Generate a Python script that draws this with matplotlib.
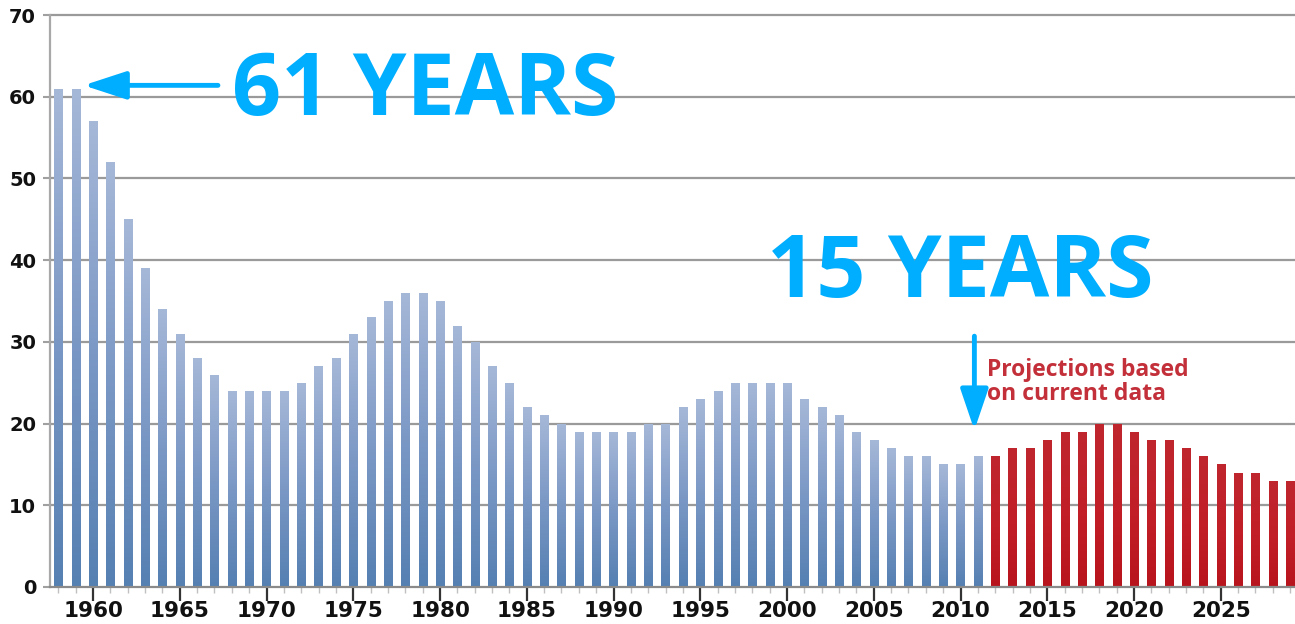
import numpy as np
import matplotlib
matplotlib.use("Agg")
import matplotlib.pyplot as plt
from matplotlib.ticker import MultipleLocator
from matplotlib.colors import LinearSegmentedColormap

# ---- data ----
hist_years = list(range(1958, 2012))
hist_values = [61, 61, 57, 52, 45, 39, 34, 31, 28, 26, 24, 24, 24, 24, 25, 27, 28,
               31, 33, 35, 36, 36, 35, 32, 30, 27, 25, 22, 21, 20, 19, 19, 19, 19,
               20, 20, 22, 23, 24, 25, 25, 25, 25, 23, 22, 21, 19, 18, 17, 16, 16,
               15, 15, 16]
proj_years = list(range(2012, 2030))
proj_values = [16, 17, 17, 18, 19, 19, 20, 20, 19, 18, 18, 17, 16, 15, 14, 14, 13, 13]
x_tick_years = [1960, 1965, 1970, 1975, 1980, 1985, 1990, 1995, 2000, 2005, 2010,
                2015, 2020, 2025]
y_ticks = [0, 10, 20, 30, 40, 50, 60, 70]

W, H = 1295, 624
fig = plt.figure(figsize=(W / 100, H / 100), dpi=100)
fig.patch.set_facecolor("white")
ax = fig.add_axes([50 / W, 37 / H, 1245 / W, 576 / H])

# grid
for yv in y_ticks[1:]:
    ax.axhline(yv, color="#9a9a9a", lw=1.6, zorder=1)

bw = 0.47
blue_bars = ax.bar(hist_years, hist_values, width=bw, color="#7b97c3", zorder=2)
red_bars = ax.bar(proj_years, proj_values, width=bw, color="#c01f28", zorder=2)

# vertical gradient on bars
grad = np.linspace(0, 1, 256).reshape(-1, 1)
bcmap = LinearSegmentedColormap.from_list("b", ["#5580b2", "#7b98c5", "#a6b8d8"])
rcmap = LinearSegmentedColormap.from_list("r", ["#b8141d", "#c21f28", "#bf262e"])
for bars, cm in ((blue_bars, bcmap), (red_bars, rcmap)):
    for p in bars:
        x0 = p.get_x()
        w, h = p.get_width(), p.get_height()
        im = ax.imshow(grad, extent=[x0, x0 + w, 0, h], origin="lower", cmap=cm,
                       aspect="auto", zorder=2.5, interpolation="bilinear")
        im.set_clip_path(p)
ax.set_xlim(1957.52, 2029.28)
ax.set_ylim(0, 70.5)

# spines
for s in ("top", "right"):
    ax.spines[s].set_visible(False)
ax.spines["left"].set_color("#a8a8a8")
ax.spines["left"].set_linewidth(1.6)
ax.spines["left"].set_bounds(0, 70)
ax.spines["bottom"].set_color("#8a8a8a")
ax.spines["bottom"].set_linewidth(1.6)
ax.spines["bottom"].set_zorder(3)

ax.set_yticks(y_ticks)
ax.set_yticklabels([str(v) for v in y_ticks], fontsize=14, fontweight="bold",
                   family="DejaVu Sans", color="#111111")
ax.tick_params(axis="y", length=5, width=1.5, color="#a0a0a0", pad=5)

ax.set_xticks(x_tick_years)
ax.set_xticklabels([str(v) for v in x_tick_years], fontsize=15.5, fontweight="bold",
                   family="DejaVu Sans", color="#111111")
ax.xaxis.set_minor_locator(MultipleLocator(1))
ax.tick_params(axis="x", which="major", length=10, width=1.6, color="#333333", pad=0)
ax.tick_params(axis="x", which="minor", length=4, width=1, color="#c0c0c0")

blue = "#00aeff"
# big annotations
ax.text(1968.03, 57.8, "61 YEARS", fontsize=62, fontweight="bold",
        family="Open Sans", color=blue, va="baseline", ha="left", zorder=5)
ax.text(1998.85, 35.5, "15 YEARS", fontsize=62, fontweight="bold",
        family="Open Sans", color=blue, va="baseline", ha="left", zorder=5)

ax.annotate("", xy=(1959.45, 61.4), xytext=(1967.2, 61.4),
            arrowprops=dict(arrowstyle="-|>,head_length=2.6,head_width=0.85",
                            mutation_scale=10, lw=3.5, color=blue,
                            shrinkA=0, shrinkB=0), zorder=5)
ax.annotate("", xy=(2010.8, 19.2), xytext=(2010.8, 30.7),
            arrowprops=dict(arrowstyle="-|>,head_length=2.5,head_width=0.85",
                            mutation_scale=10, lw=3.5, color=blue,
                            shrinkA=0, shrinkB=0), zorder=5)

ax.text(2011.55, 22.9, "Projections based\non current data", fontsize=16.5,
        fontweight="bold", family="Open Sans", color="#c3303a", va="baseline",
        ha="left", linespacing=1.0, zorder=5)

fig.savefig("out.png", dpi=100, facecolor="white")
